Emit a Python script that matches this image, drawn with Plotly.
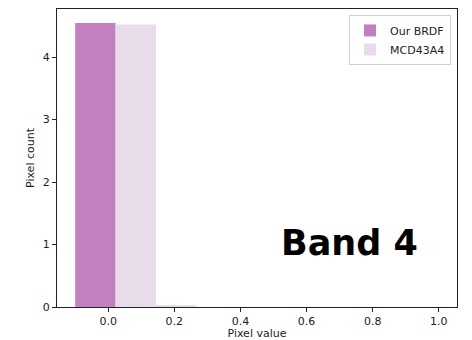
import numpy as np
import plotly.graph_objects as go

# Histogram bins (left edges) and per-bin pixel counts for each product
bin_edges = [-0.1, 0.02222, 0.14444, 0.26667, 0.38889, 0.51111, 0.63333, 0.75556, 0.87778, 1.0]
our_brdf = [4.544, 0, 0, 0, 0, 0, 0, 0, 0]
mcd43a4 = [0, 4.523, 0.02, 0, 0, 0, 0, 0, 0]

edges = np.array(bin_edges)
centers = (edges[:-1] + edges[1:]) / 2
widths = np.diff(edges)

fig = go.Figure()
fig.add_trace(go.Bar(x=centers, y=our_brdf, width=widths, name="Our BRDF",
                     marker=dict(color="#c27fc2", line=dict(width=0))))
fig.add_trace(go.Bar(x=centers, y=mcd43a4, width=widths, name="MCD43A4",
                     marker=dict(color="#e9dcea", line=dict(width=0))))

font = "DejaVu Sans, sans-serif"
fig.update_layout(
    barmode="overlay",
    width=472, height=340,
    margin=dict(l=57, r=15, t=9, b=33, autoexpand=False),
    plot_bgcolor="white", paper_bgcolor="white",
    font=dict(family=font, size=11, color="#222"),
    showlegend=True,
    legend=dict(x=0.985, y=0.98, xanchor="right", yanchor="top",
                bordercolor="#d0d0d0", borderwidth=1, bgcolor="white",
                font=dict(size=11), itemsizing="constant", tracegroupgap=0),
    xaxis=dict(range=[-0.155, 1.055], tickvals=[0, 0.2, 0.4, 0.6, 0.8, 1.0],
               ticktext=["0.0", "0.2", "0.4", "0.6", "0.8", "1.0"], automargin=False,
               showgrid=False, zeroline=False, showline=True, linecolor="#222",
               linewidth=1, mirror=True, ticks="outside", ticklen=4, tickcolor="#222",
               title=dict(text="Pixel value", standoff=7, font=dict(size=11))),
    yaxis=dict(range=[0, 4.77], tickvals=[0, 1, 2, 3, 4], automargin=False,
               showgrid=False, zeroline=False, showline=True, linecolor="#222",
               linewidth=1, mirror=True, ticks="outside", ticklen=4, tickcolor="#222",
               title=dict(text="Pixel count", standoff=5, font=dict(size=11))),
    annotations=[dict(text="<b>Band 4</b>", x=0.73, y=1.02, xref="paper", yref="y",
                      xanchor="center", yanchor="middle", showarrow=False,
                      font=dict(family="DejaVu Sans, sans-serif", size=35, color="black"))],
)

fig.write_html("out.html")
